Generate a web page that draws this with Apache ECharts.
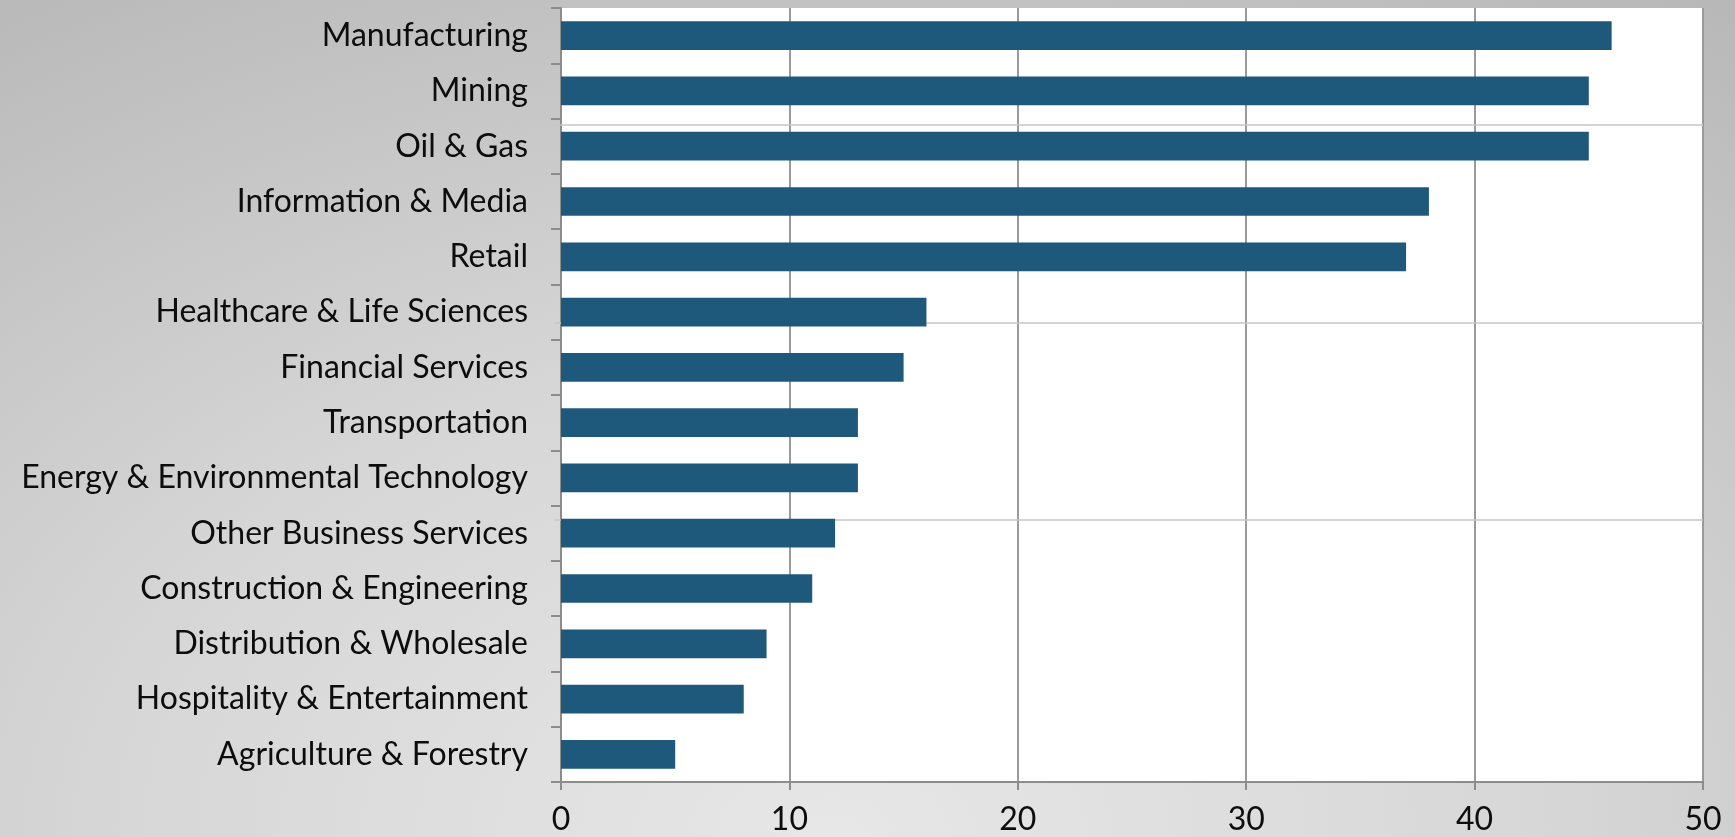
<!DOCTYPE html>
<html>
<head>
<meta charset="utf-8">
<script src="https://cdn.jsdelivr.net/npm/echarts@6/dist/echarts.min.js"></script>
<style>
  html, body { margin: 0; padding: 0; }
  body {
    width: 1735px; height: 837px; overflow: hidden;
    background: radial-gradient(ellipse 95% 130% at 48% 100%, #e7e7e7 0%, #d6d6d6 45%, #b4b4b4 100%);
  }
  #chart { width: 1735px; height: 837px; }
</style>
</head>
<body>
<div id="chart"></div>
<script>
// Industries, listed top to bottom
const industries = [
  'Manufacturing',
  'Mining',
  'Oil & Gas',
  'Information & Media',
  'Retail',
  'Healthcare & Life Sciences',
  'Financial Services',
  'Transportation',
  'Energy & Environmental Technology',
  'Other Business Services',
  'Construction & Engineering',
  'Distribution & Wholesale',
  'Hospitality & Entertainment',
  'Agriculture & Forestry'
];

// Value per industry
const values = [46, 45, 45, 38, 37, 16, 15, 13, 13, 12, 11, 9, 8, 5];

// Value axis range and step
const axisMin = 0;
const axisMax = 50;
const axisStep = 10;

const chart = echarts.init(document.getElementById('chart'), null, { renderer: 'canvas' });

const textFont = 'Lato, "Open Sans", sans-serif';
const axisGray = '#8c8c8c';

// Faint horizontal rules running across the plot background
const ruleYs = [125, 323, 520];
const rules = ruleYs.map(y => ({
  type: 'line',
  z: 1,
  silent: true,
  shape: { x1: 555, y1: y, x2: 1703, y2: y },
  style: { stroke: '#c6c6c6', lineWidth: 1.5 }
}));

chart.setOption({
  backgroundColor: 'transparent',
  animation: false,
  graphic: rules,
  grid: {
    left: 561, right: 32, top: 8, bottom: 55,
    show: true, backgroundColor: '#ffffff', borderWidth: 0
  },
  xAxis: {
    type: 'value',
    min: axisMin, max: axisMax, interval: axisStep,
    axisLine: { show: true, lineStyle: { color: axisGray, width: 2 } },
    axisTick: { show: true, length: 8, lineStyle: { color: axisGray, width: 2 } },
    splitLine: { show: true, showMinLine: false, lineStyle: { color: '#9a9a9a', width: 2 } },
    axisLabel: { color: '#0d0d0d', fontFamily: textFont, fontSize: 32, margin: 22 }
  },
  yAxis: {
    type: 'category',
    data: industries,
    inverse: true,
    axisLine: { show: true, lineStyle: { color: axisGray, width: 2 } },
    axisTick: { show: true, length: 10, lineStyle: { color: axisGray, width: 2 } },
    splitLine: { show: false },
    axisLabel: { color: '#0d0d0d', fontFamily: textFont, fontSize: 32, margin: 33 }
  },
  series: [{
    type: 'bar',
    data: values,
    barCategoryGap: '48%',
    itemStyle: { color: '#1e597b' },
    silent: true,
    z: 3
  }]
});
</script>
</body>
</html>
